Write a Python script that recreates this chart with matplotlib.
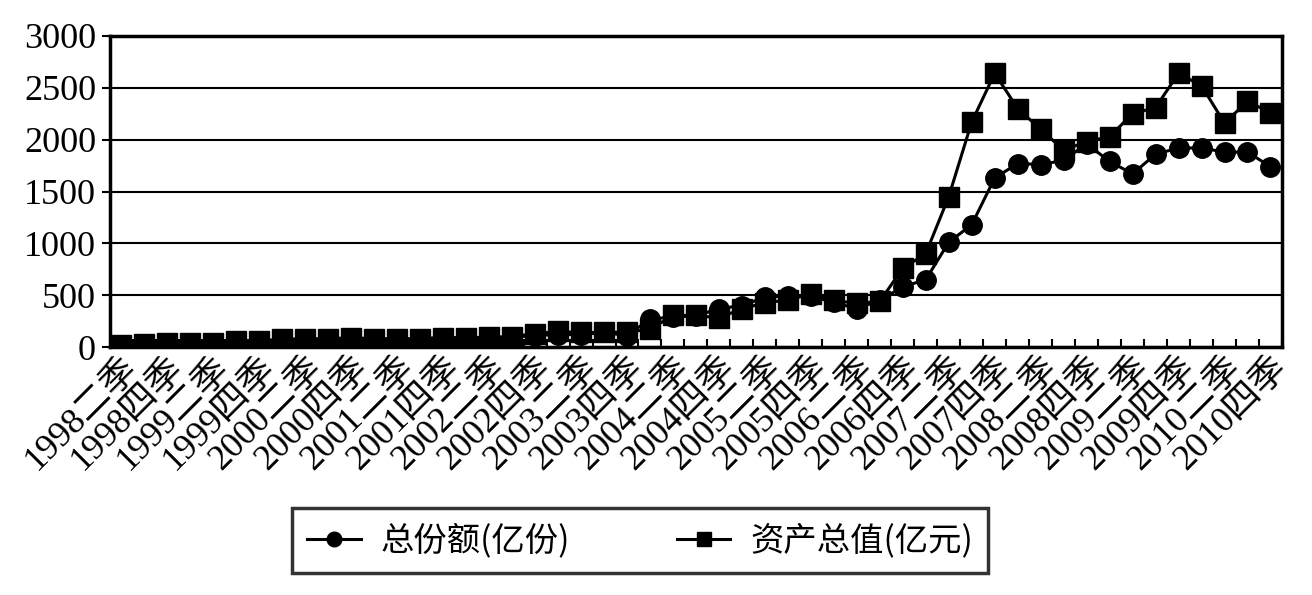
import numpy as np
import matplotlib.pyplot as plt

plt.rcParams['font.family'] = ['Liberation Serif', 'Noto Sans CJK SC']

# quarters 1998 Q2 .. 2010 Q4
quarter_names = ['一', '二', '三', '四']
quarters = []
for year in range(1998, 2011):
    for q in range(4):
        if year == 1998 and q == 0:
            continue
        quarters.append(f"{year}{quarter_names[q]}季")

# total shares (亿份)
shares = [15, 20, 25, 25, 30, 40, 45, 50, 60, 65,
          70, 65, 70, 80, 90, 85, 90, 95, 110, 120,
          120, 140, 110, 270, 290, 300, 370, 400, 480, 490,
          490, 430, 370, 450, 580, 650, 1010, 1180, 1630, 1770,
          1760, 1800, 1960, 1790, 1670, 1860, 1920, 1920, 1880, 1880,
          1740]

# total assets (亿元)
assets = [20, 25, 35, 35, 40, 60, 60, 75, 80, 80,
          90, 80, 80, 80, 90, 90, 95, 100, 130, 150,
          140, 140, 145, 170, 305, 305, 280, 370, 425, 455,
          510, 450, 420, 440, 760, 900, 1450, 2170, 2640, 2300,
          2100, 1900, 1980, 2030, 2250, 2310, 2640, 2520, 2160, 2370,
          2260]

x = np.arange(len(quarters))

fig = plt.figure(figsize=(13.12, 5.95), dpi=100)
ax = fig.add_axes([0.0838, 0.4168, 0.8933, 0.5227])

ax.plot(x, shares, color='black', lw=2.2, marker='o', markersize=14, label='总份额(亿份)')
ax.plot(x, assets, color='black', lw=2.2, marker='s', markersize=14, label='资产总值(亿元)')

ax.set_xlim(-0.5, len(quarters) - 0.5)
ax.set_ylim(0, 3000)
ax.set_yticks(np.arange(0, 3001, 500))
ax.yaxis.grid(True, color='black', lw=1.5)
ax.set_axisbelow(True)

for s in ax.spines.values():
    s.set_linewidth(2.5)

ax.tick_params(axis='y', labelsize=26, length=6, width=1.5, direction='out', pad=4)
ax.set_xticks(x[::2])
ax.set_xticklabels(quarters[::2], rotation=45, ha='right', va='top',
                   rotation_mode='anchor', fontsize=26)
ax.tick_params(axis='x', which='major', length=0, pad=3)
ax.set_xticks(np.arange(-0.5, len(quarters), 1), minor=True)
ax.tick_params(axis='x', which='minor', direction='in', length=6, width=1.5)

leg = fig.legend(loc='center', bbox_to_anchor=(0.488, 0.908 - 0.817), ncol=2,
                 frameon=True, fancybox=False, edgecolor='black',
                 handlelength=1.6, handletextpad=0.6, columnspacing=3.2, markerscale=0.75,
                 borderpad=0.45, prop={'family': ['Noto Sans CJK SC'], 'size': 24})
leg.get_frame().set_linewidth(2.5)

fig.savefig('out.png', dpi=100, facecolor='white')
